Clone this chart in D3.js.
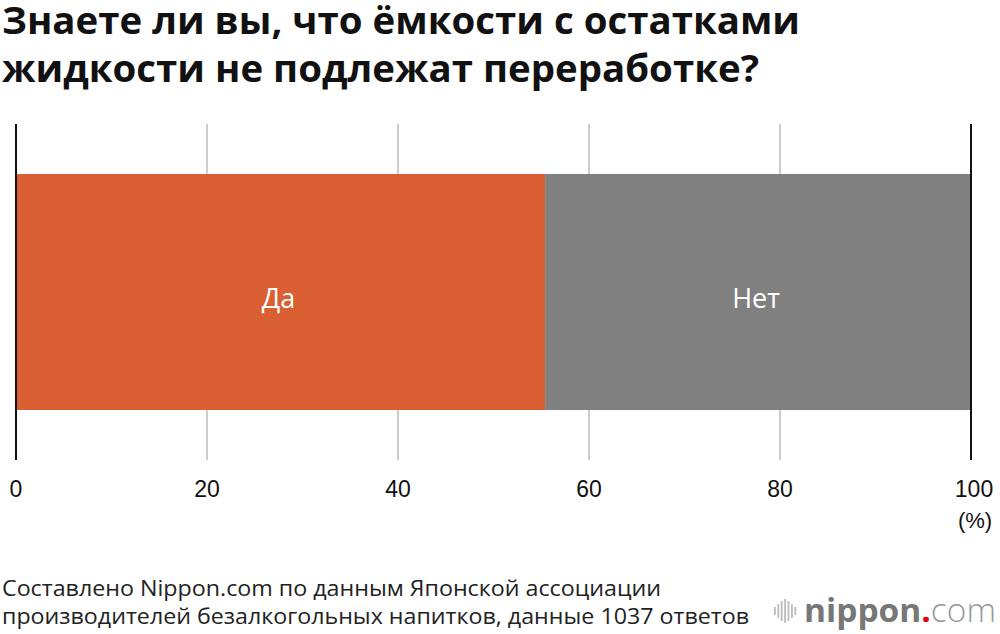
<!DOCTYPE html>
<html><head><meta charset="utf-8">
<script src="https://cdn.jsdelivr.net/npm/d3@7"></script>
<style>body{margin:0;background:#fff}svg{display:block}</style>
</head><body>
<svg id="c" width="1000" height="634"></svg>
<script>
const titleLines = ["Знаете ли вы, что ёмкости с остатками", "жидкости не подлежат переработке?"];
const categories = ["Да", "Нет"];
const values = [55.4, 44.6];
const colors = ["#DA5F33", "#808080"];
const tickValues = [0, 20, 40, 60, 80, 100];
const unitLabel = "(%)";
const sourceLines = ["Составлено Nippon.com по данным Японской ассоциации", "производителей безалкогольных напитков, данные 1037 ответов"];

const svg = d3.select("#c");
const x = d3.scaleLinear().domain([0, 100]).range([16, 971]);

// title
const tW = [798, 757];
svg.selectAll("text.title").data(titleLines).join("text")
  .attr("class", "title")
  .attr("x", 2).attr("y", (d, i) => 34 + i * 47.5)
  .attr("font-family", "'Open Sans', 'Noto Sans', sans-serif")
  .attr("font-weight", 700).attr("font-size", 38).attr("fill", "#111")
  .attr("textLength", (d, i) => tW[i]).attr("lengthAdjust", "spacingAndGlyphs")
  .text(d => d);

// grid
svg.selectAll("line.grid").data(tickValues.slice(1, -1)).join("line")
  .attr("x1", d => x(d)).attr("x2", d => x(d))
  .attr("y1", 124).attr("y2", 460)
  .attr("stroke", "#cccccc").attr("stroke-width", 2);

// stacked bar
let acc = 0;
const segs = values.map((v, i) => { const s = { cat: categories[i], x0: acc, x1: acc + v, c: colors[i] }; acc += v; return s; });
const bandY = 174, bandH = 236;
svg.selectAll("rect.seg").data(segs).join("rect")
  .attr("x", d => x(d.x0)).attr("width", d => x(d.x1) - x(d.x0))
  .attr("y", bandY).attr("height", bandH)
  .attr("fill", d => d.c);
svg.selectAll("text.seg").data(segs).join("text")
  .attr("x", d => (x(d.x0) + x(d.x1)) / 2 - 2).attr("y", bandY + bandH / 2 + 16)
  .attr("text-anchor", "middle")
  .attr("font-family", "'Open Sans', 'Noto Sans', sans-serif")
  .attr("font-size", 27).attr("fill", "#fff")
  .text(d => d.cat);

// axis end lines
svg.selectAll("line.axis").data([0, 100]).join("line")
  .attr("x1", d => x(d)).attr("x2", d => x(d))
  .attr("y1", 124).attr("y2", 460)
  .attr("stroke", "#111").attr("stroke-width", 2);

// tick labels
svg.selectAll("text.tick").data(tickValues).join("text")
  .attr("x", d => x(d) + (d === 100 ? 3 : 0)).attr("y", 497)
  .attr("text-anchor", "middle")
  .attr("font-family", "'Liberation Sans', Arial, sans-serif")
  .attr("font-size", 23).attr("fill", "#111")
  .text(d => d);
svg.append("text").attr("x", x(100) + 4).attr("y", 528)
  .attr("text-anchor", "middle")
  .attr("font-family", "'Liberation Sans', Arial, sans-serif")
  .attr("font-size", 22).attr("fill", "#111").text(unitLabel);

// source
svg.selectAll("text.src").data(sourceLines).join("text")
  .attr("x", 2).attr("y", (d, i) => 596 + i * 28)
  .attr("font-family", "'Open Sans', 'Noto Sans', sans-serif")
  .attr("font-size", 22).attr("fill", "#222")
  .attr("textLength", (d, i) => [659, 747][i]).attr("lengthAdjust", "spacingAndGlyphs")
  .text(d => d);

// logo
const logo = svg.append("g");
const barsH = [8, 14, 20, 24, 20, 14, 8];
logo.selectAll("rect").data(barsH).join("rect")
  .attr("x", (d, i) => 774 + i * 3.4).attr("y", d => 611 - d / 2)
  .attr("width", 1.8).attr("height", d => d).attr("fill", "#bbb");
const lt = logo.append("text").attr("x", 804).attr("y", 622)
  .attr("font-family", "'Open Sans', 'Noto Sans', sans-serif").attr("font-size", 33)
  .attr("textLength", 192).attr("lengthAdjust", "spacingAndGlyphs");
lt.append("tspan").attr("font-weight", 700).attr("fill", "#777").text("nippon");
lt.append("tspan").attr("fill", "#e60012").attr("font-weight", 700).text(".");
lt.append("tspan").attr("fill", "#999").attr("font-weight", 300).text("com");
</script>
</body></html>
